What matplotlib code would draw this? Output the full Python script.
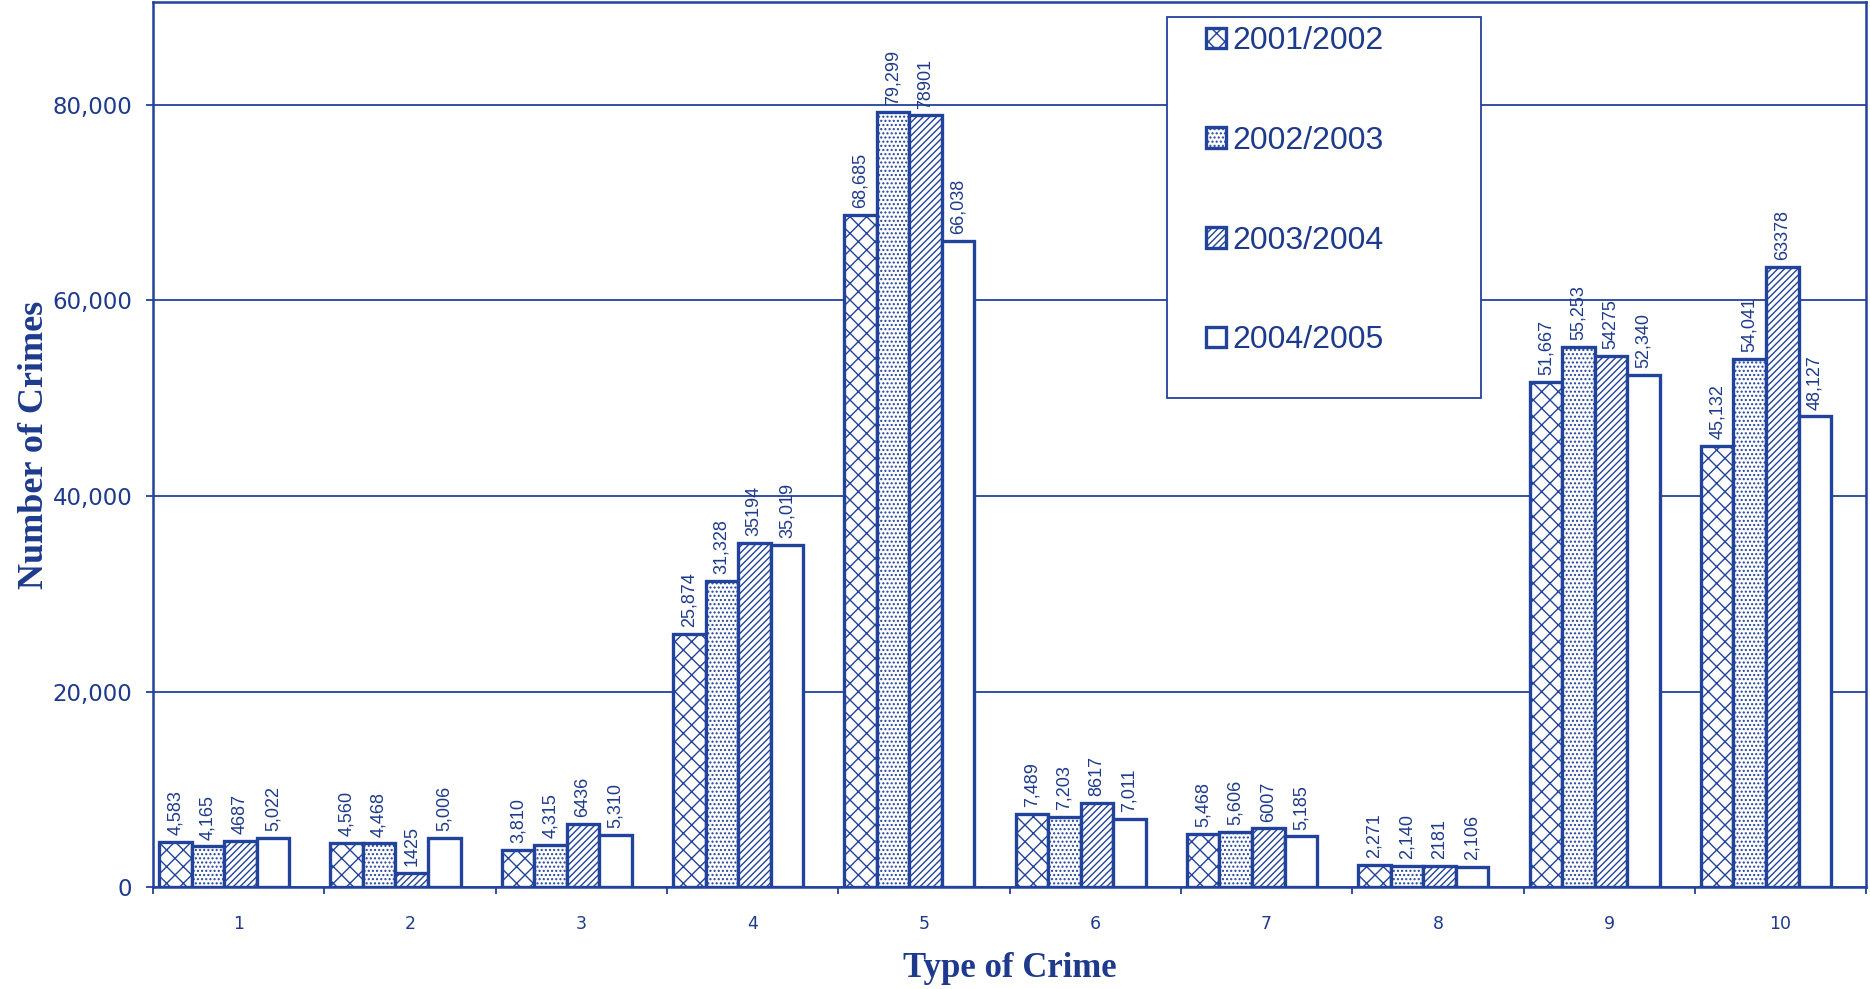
import matplotlib.pyplot as plt
import numpy as np
from matplotlib.patches import Rectangle

# crime counts per type, one list per year
categories = ["1", "2", "3", "4", "5", "6", "7", "8", "9", "10"]
years = ["2001/2002", "2002/2003", "2003/2004", "2004/2005"]
y2001 = [4583, 4560, 3810, 25874, 68685, 7489, 5468, 2271, 51667, 45132]
y2002 = [4165, 4468, 4315, 31328, 79299, 7203, 5606, 2140, 55253, 54041]
y2003 = [4687, 1425, 6436, 35194, 78901, 8617, 6007, 2181, 54275, 63378]
y2004 = [5022, 5006, 5310, 35019, 66038, 7011, 5185, 2106, 52340, 48127]
# labels as printed on the original (some without thousands separator)
lab2001 = ["4,583", "4,560", "3,810", "25,874", "68,685", "7,489", "5,468", "2,271", "51,667", "45,132"]
lab2002 = ["4,165", "4,468", "4,315", "31,328", "79,299", "7,203", "5,606", "2,140", "55,253", "54,041"]
lab2003 = ["4687", "1425", "6436", "35194", "78901", "8617", "6007", "2181", "54275", "63378"]
lab2004 = ["5,022", "5,006", "5,310", "35,019", "66,038", "7,011", "5,185", "2,106", "52,340", "48,127"]

series = [y2001, y2002, y2003, y2004]
labels = [lab2001, lab2002, lab2003, lab2004]
hatches = ["xx", "....", "/////", ""]

blue = "#22439b"
txt = "#1d3a8c"
plt.rcParams["hatch.color"] = blue
plt.rcParams["hatch.linewidth"] = 1.0

fig = plt.figure(figsize=(18.7, 9.89), dpi=100)
ax = fig.add_axes([0.0818, 0.103, 0.9162, 0.895])

x = np.arange(len(categories))
w = 0.19
for k, vals in enumerate(series):
    pos = x - 0.5 + 0.035 + w * (k + 0.5)
    bars = ax.bar(pos, vals, width=w, facecolor="white", edgecolor=blue,
                  linewidth=2.4, hatch=hatches[k], label=years[k], zorder=3)
    for b, s in zip(bars, labels[k]):
        ax.text(b.get_x() + b.get_width() / 2, b.get_height() + 700, s,
                rotation=90, ha="center", va="bottom", fontsize=13,
                color=txt, family="Liberation Sans", zorder=4)

ax.set_xlim(-0.5, 9.5)
ax.set_ylim(0, 90500)
ax.set_yticks([0, 20000, 40000, 60000, 80000])
ax.set_yticklabels(["0", "20,000", "40,000", "60,000", "80,000"])
ax.yaxis.grid(True, color=blue, linewidth=1.3, zorder=0)
ax.set_xticks(x)
ax.set_xticklabels(categories)
ax.set_xticks(np.arange(-0.5, 10, 1), minor=True)
ax.tick_params(axis="x", which="major", length=0, pad=20, labelsize=12.5, labelcolor=txt)
ax.tick_params(axis="x", which="minor", length=5, width=1.3, color=blue)
ax.tick_params(axis="y", length=5, width=1.3, color=blue, labelsize=16.5, labelcolor=txt, pad=10)

for sp in ax.spines.values():
    sp.set_color(blue)
    sp.set_linewidth(1.8)

ax.set_xlabel("Type of Crime", fontsize=25, fontweight="bold", family="Liberation Serif",
              color=txt, labelpad=14)
ax.set_ylabel("Number of Crimes", fontsize=26, fontweight="bold", family="Liberation Serif",
              color=txt, labelpad=1)

# legend with its own frame
ax.add_patch(Rectangle((0.592, 0.553), 0.183, 0.430, transform=ax.transAxes,
                       facecolor="white", edgecolor=blue, linewidth=1.3, zorder=5))
leg = ax.legend(loc="upper left", bbox_to_anchor=(0.598, 1.005), frameon=False,
                fontsize=23, labelspacing=2.18, handlelength=0.62, handleheight=0.62,
                handletextpad=0.2, borderpad=0.4)
leg.set_zorder(6)
for t in leg.get_texts():
    t.set_color(txt)
    t.set_family("Liberation Sans")

plt.savefig("out.png", dpi=100)
